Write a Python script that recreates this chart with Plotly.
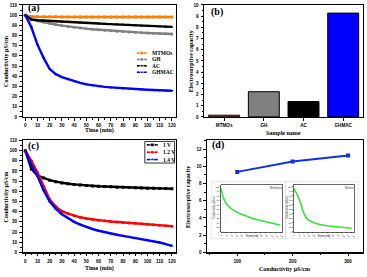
import plotly.graph_objects as go

W, H = 367, 277

# ---------------- data ----------------
time = list(range(0, 121, 5))
# panel (a)
mtmos = [100, 98.6, 98.4, 98.3, 98.3, 98.3, 98.2, 98.2, 98.2, 98.2, 98.2, 98.2, 98.2,
         98.2, 98.2, 98.2, 98.2, 98.2, 98.2, 98.2, 98.2, 98.2, 98.2, 98.2, 98.2]
gh = [100, 96.5, 94.5, 93, 91.8, 90.7, 89.7, 88.8, 88, 87.3, 86.7, 86.1, 85.6,
      85.1, 84.6, 84.2, 83.8, 83.4, 83.1, 82.8, 82.5, 82.2, 81.9, 81.6, 81.4]
ac = [100, 95.5, 95, 94.6, 94.3, 94, 93.6, 93.3, 93, 92.7, 92.3, 92, 91.7,
      91.4, 91.1, 90.8, 90.5, 90.2, 89.9, 89.6, 89.3, 89, 88.8, 88.6, 88.4]
ghmac = [100, 88, 71, 58, 47, 42, 39, 37, 35, 33.5, 32, 31, 30,
         29.5, 29, 28.5, 28, 27.7, 27.3, 27, 26.7, 26.4, 26.1, 25.9, 25.7]
# panel (b)
samples = ["MTMOs", "GH", "AC", "GHMAC"]
capacity = [0.15, 2.25, 1.37, 9.27]
bar_colors = ["#C8642D", "#808080", "#000000", "#0000FF"]
# panel (c)
v10 = [100, 82, 75.5, 73, 71, 69.5, 68.3, 67.5, 66.8, 66.2, 65.7, 65.3, 65,
       64.7, 64.4, 64.1, 63.9, 63.7, 63.5, 63.3, 63.1, 63, 62.9, 62.8, 62.6]
v12 = [100, 90, 78.5, 65, 52, 45, 40.5, 38, 36, 34.5, 33.3, 32.3, 31.6,
       31, 30.4, 29.9, 29.4, 29, 28.6, 28.1, 27.6, 27.1, 26.6, 26.2, 25.8]
v14 = [100, 86, 75, 61, 50, 43, 37.5, 33.5, 30, 27.3, 25, 23, 21.3,
       19.8, 18.5, 17.3, 16.2, 15.2, 14.2, 13.2, 12.2, 11, 9.7, 8.2, 6.5]
# panel (d)
cond = [100, 200, 300]
cap_d = [9.35, 10.55, 11.25]
# insets
ins_t = [0, 2, 5, 10, 15, 20, 30, 40, 50, 60, 70, 80, 90, 100, 110, 120]
ins1 = [97, 85, 74, 63, 57, 52, 45, 39.5, 35.5, 31.5, 28, 25, 22.5, 20, 17.5, 15.5]
ins2_t = [0, 5, 10, 15, 20, 25, 30, 40, 50, 60, 70, 80, 90, 100, 110, 120]
ins2 = [97, 88, 77, 62, 45, 33, 27, 21, 17.5, 15, 13.5, 12, 11, 10, 9, 8]

# ---------------- helpers ----------------
def dx(a, b):
    return [a / W, b / W]

def dy(top, bottom):
    return [1 - bottom / H, 1 - top / H]

TICKF = dict(family="Liberation Sans", size=4.6, color="black", weight="bold")
TITLEF = dict(family="Liberation Serif", size=6, color="black", weight="bold")

def ax(**kw):
    base = dict(showline=True, linecolor="black", linewidth=1.3, mirror=True,
                ticks="outside", ticklen=2.5, tickwidth=1, tickcolor="black",
                showgrid=False, zeroline=False, tickfont=TICKF, ticklabelstandoff=1)
    base.update(kw)
    return base

fig = go.Figure()

# panel (a)
for ys, col, sym in [(mtmos, "#FF7F00", "square"), (gh, "#808080", "circle"),
                     (ac, "#000000", "triangle-up"), (ghmac, "#0000FF", "triangle-down")]:
    fig.add_trace(go.Scatter(x=time, y=ys, mode="lines+markers", xaxis="x", yaxis="y",
                             line=dict(color=col, width=2.4),
                             marker=dict(symbol=sym, size=3, color=col)))
# panel (b)
fig.add_trace(go.Bar(x=samples, y=capacity, xaxis="x2", yaxis="y2",
                     marker=dict(color=bar_colors, line=dict(color="black", width=1)),
                     width=0.78))
# panel (c)
for ys, col, sym in [(v10, "#000000", "square"), (v12, "#FF0000", "circle"),
                     (v14, "#0000FF", "triangle-up")]:
    fig.add_trace(go.Scatter(x=time, y=ys, mode="lines+markers", xaxis="x3", yaxis="y3",
                             line=dict(color=col, width=2.4),
                             marker=dict(symbol=sym, size=3, color=col)))
# panel (d)
fig.add_trace(go.Scatter(x=cond, y=cap_d, mode="lines+markers", xaxis="x4", yaxis="y4",
                         line=dict(color="#1030E0", width=2),
                         marker=dict(symbol="square", size=4, color="#1030E0")))
# insets
fig.add_trace(go.Scatter(x=ins_t, y=ins1, mode="lines", xaxis="x5", yaxis="y5",
                         line=dict(color="#33E633", width=1.6, shape="spline")))
fig.add_trace(go.Scatter(x=ins2_t, y=ins2, mode="lines", xaxis="x6", yaxis="y6",
                         line=dict(color="#33E633", width=1.6, shape="spline")))

# custom legends (pixel overlay axis)
leg_a = [("MTMOs", "#FF7F00", "square", 52), ("GH", "#808080", "circle", 58.5),
         ("AC", "#000000", "triangle-up", 65), ("GHMAC", "#0000FF", "triangle-down", 71.5)]
leg_c = [("1 V", "#000000", "square", 145.5), ("1.2 V", "#FF0000", "circle", 153),
         ("1.4 V", "#0000FF", "triangle-up", 160.5)]
annots = []
for name, col, sym, yy in leg_a:
    fig.add_trace(go.Scatter(x=[137, 142, 147], y=[yy, yy, yy], mode="lines+markers",
                             xaxis="x7", yaxis="y7", line=dict(color=col, width=1.6),
                             marker=dict(symbol=sym, size=[0, 4, 0], color=col)))
    annots.append(dict(x=150, y=yy, xref="x7", yref="y7", text=name, showarrow=False,
                       xanchor="left", yanchor="middle",
                       font=dict(family="Liberation Serif", size=5.5, color="black", weight="bold")))
for name, col, sym, yy in leg_c:
    fig.add_trace(go.Scatter(x=[147, 152.5, 158], y=[yy, yy, yy], mode="lines+markers",
                             xaxis="x7", yaxis="y7", line=dict(color=col, width=1.6),
                             marker=dict(symbol=sym, size=[0, 4, 0], color=col)))
    annots.append(dict(x=161, y=yy, xref="x7", yref="y7", text=name, showarrow=False,
                       xanchor="left", yanchor="middle",
                       font=dict(family="Liberation Serif", size=5.5, color="black", weight="bold")))

# panel letters
for txt, x, y in [("(a)", 25, 6), ("(b)", 210, 10), ("(c)", 25, 147), ("(d)", 211, 146)]:
    annots.append(dict(x=x, y=y, xref="x7", yref="y7", text=txt, showarrow=False,
                       xanchor="left", yanchor="middle",
                       font=dict(family="Liberation Serif", size=10, color="black", weight="bold")))

# axis titles
for txt, x, y, ang in [("Conductivity µS/cm", 5, 60, -90), ("Conductivity µS/cm", 5, 198, -90),
                       ("Electrosorptive capacity", 191, 60, -90),
                       ("Electrosorptive capacity", 189, 198, -90),
                       ("Time (min)", 99, 131, 0), ("Sample name", 285, 133, 0),
                       ("Time (min)", 99, 271, 0), ("Conductivity µS/cm", 286, 272, 0)]:
    annots.append(dict(x=x, y=y, xref="x7", yref="y7", text=txt, showarrow=False,
                       textangle=ang, xanchor="center", yanchor="middle", font=TITLEF))

# inset small texts
SMALL = dict(family="Liberation Sans", size=2.6, color="#333333")
for txt, x, y, ang in [("Time (min)", 253, 238.5, 0), ("Conductivity µS/cm", 214.5, 210, -90),
                       ("Time (min)", 326, 238.5, 0), ("Conductivity µS/cm", 289, 210, -90),
                       ("Methylene", 278, 189, 0), ("Mixture", 351, 189, 0)]:
    annots.append(dict(x=x, y=y, xref="x7", yref="y7", text=txt, showarrow=False,
                       textangle=ang, xanchor="center", yanchor="middle", font=SMALL))

shapes = [
    dict(type="rect", xref="x7", yref="y7", x0=145, x1=175, y0=142, y1=164,
         line=dict(color="black", width=0.8)),
    dict(type="rect", xref="x7", yref="y7", x0=212, x1=287, y0=183, y1=241,
         line=dict(color="#d8d8d8", width=0.6), fillcolor="rgba(255,255,255,0)"),
    dict(type="rect", xref="x7", yref="y7", x0=287, x1=360, y0=183, y1=241,
         line=dict(color="#d8d8d8", width=0.6), fillcolor="rgba(255,255,255,0)"),
]

INSF = dict(family="Liberation Sans", size=2.2, color="black")
def inset_ax(**kw):
    base = dict(showline=True, linecolor="black", linewidth=0.6, mirror=True,
                ticks="outside", ticklen=1, tickwidth=0.5, tickcolor="black",
                showgrid=False, zeroline=False, tickfont=INSF, ticklabelstandoff=0)
    base.update(kw)
    return base

fig.update_layout(
    width=W, height=H, margin=dict(l=0, r=0, t=0, b=0),
    paper_bgcolor="white", plot_bgcolor="rgba(0,0,0,0)", showlegend=False,
    xaxis=ax(domain=dx(22, 176), anchor="y", range=[-2, 123], dtick=10, tick0=0,
             minor=dict(ticks="outside", ticklen=1.5, dtick=5, tickcolor="black")),
    yaxis=ax(domain=dy(3, 117), anchor="x", range=[0, 110], dtick=10,
             minor=dict(ticks="outside", ticklen=1.5, dtick=5, tickcolor="black")),
    xaxis2=ax(domain=dx(205, 365), anchor="y2", range=[-0.5, 3.5], type="category"),
    yaxis2=ax(domain=dy(3, 117), anchor="x2", range=[0, 10], dtick=1,
              minor=dict(ticks="outside", ticklen=1.5, dtick=0.5, tickcolor="black")),
    xaxis3=ax(domain=dx(22, 176), anchor="y3", range=[-2, 123], dtick=10, tick0=0,
              minor=dict(ticks="outside", ticklen=1.5, dtick=5, tickcolor="black")),
    yaxis3=ax(domain=dy(141, 255), anchor="x3", range=[0, 110], dtick=10,
              minor=dict(ticks="outside", ticklen=1.5, dtick=5, tickcolor="black")),
    xaxis4=ax(domain=dx(208, 365), anchor="y4", range=[46, 327], tickvals=[100, 200, 300],
              minor=dict(ticks="outside", ticklen=1.5, tickvals=[50, 150, 250], tickcolor="black")),
    yaxis4=ax(domain=dy(141, 255), anchor="x4", range=[0, 13], dtick=2,
              minor=dict(ticks="outside", ticklen=1.5, dtick=1, tickcolor="black")),
    xaxis5=inset_ax(domain=dx(222, 284), anchor="y5", range=[0, 125], dtick=10),
    yaxis5=inset_ax(domain=dy(186, 234), anchor="x5", range=[0, 105], dtick=10),
    xaxis6=inset_ax(domain=dx(295, 356), anchor="y6", range=[0, 125], dtick=10),
    yaxis6=inset_ax(domain=dy(186, 234), anchor="x6", range=[0, 105], dtick=10),
    xaxis7=dict(domain=[0, 1], range=[0, W], visible=False, anchor="y7", fixedrange=True),
    yaxis7=dict(domain=[0, 1], range=[H, 0], visible=False, anchor="x7", fixedrange=True),
    annotations=annots, shapes=shapes,
)

fig.write_html("out.html", config={"displayModeBar": False, "staticPlot": True},
               post_script="document.body.style.margin='0';document.body.style.padding='0';"
                           "document.body.style.overflow='hidden';")
